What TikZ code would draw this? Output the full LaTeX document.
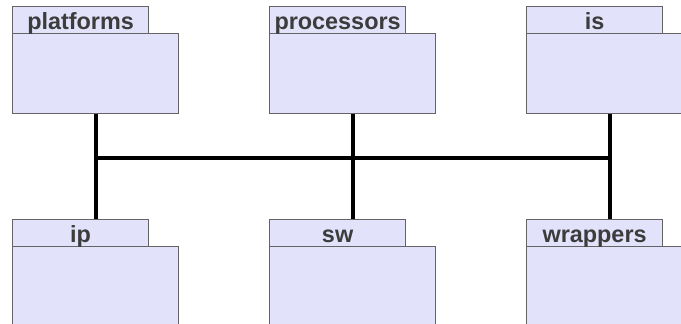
\documentclass[tikz,border=0pt]{standalone}
\usepackage{fontspec}
\setmainfont{Liberation Sans}
\begin{document}
\begin{tikzpicture}[x=1pt,y=-1pt,
  pkgtab/.style={draw=pkgline, fill=pkgfill, line width=1.2pt, minimum width=136pt,
    minimum height=27pt, inner sep=0pt, text height=22.5pt, text depth=4.5pt,
    anchor=north west, font=\fontsize{23.4}{23.4}\selectfont\bfseries, text=pkgtext},
  pkgbody/.style={draw=pkgline, fill=pkgfill, line width=1.2pt, minimum width=166pt,
    minimum height=80pt, inner sep=0pt, anchor=north west},
  link/.style={line width=4pt, draw=black}]
\definecolor{pkgfill}{RGB}{226,226,250}
\definecolor{pkgline}{RGB}{100,100,100}
\definecolor{pkgtext}{RGB}{60,60,60}
\useasboundingbox (0,0) rectangle (681,324);
\clip (0,0) rectangle (681,324);
% top row of packages
\node[pkgbody] (platforms-body) at (12,33) {};
\node[pkgtab] (platforms-tab) at (12,6) {platforms};
\node[pkgbody] (processors-body) at (269,33) {};
\node[pkgtab] (processors-tab) at (269,6) {processors};
\node[pkgbody] (is-body) at (526,33) {};
\node[pkgtab] (is-tab) at (526,6) {is};
% bottom row of packages
\node[pkgbody] (ip-body) at (12,246) {};
\node[pkgtab] (ip-tab) at (12,219) {ip};
\node[pkgbody] (sw-body) at (269,246) {};
\node[pkgtab] (sw-tab) at (269,219) {sw};
\node[pkgbody] (wrappers-body) at (526,246) {};
\node[pkgtab] (wrappers-tab) at (526,219) {wrappers};
% shared bus
\coordinate (bus) at (0,158);
\draw[link] (platforms-body.south) -- (ip-body.center |- ip-tab.north);
\draw[link] (processors-body.south) -- (sw-body.center |- sw-tab.north);
\draw[link] (is-body.south) -- (wrappers-body.center |- wrappers-tab.north);
\draw[link] (platforms-body.south |- bus) -- (is-body.south |- bus);
\end{tikzpicture}
\end{document}
